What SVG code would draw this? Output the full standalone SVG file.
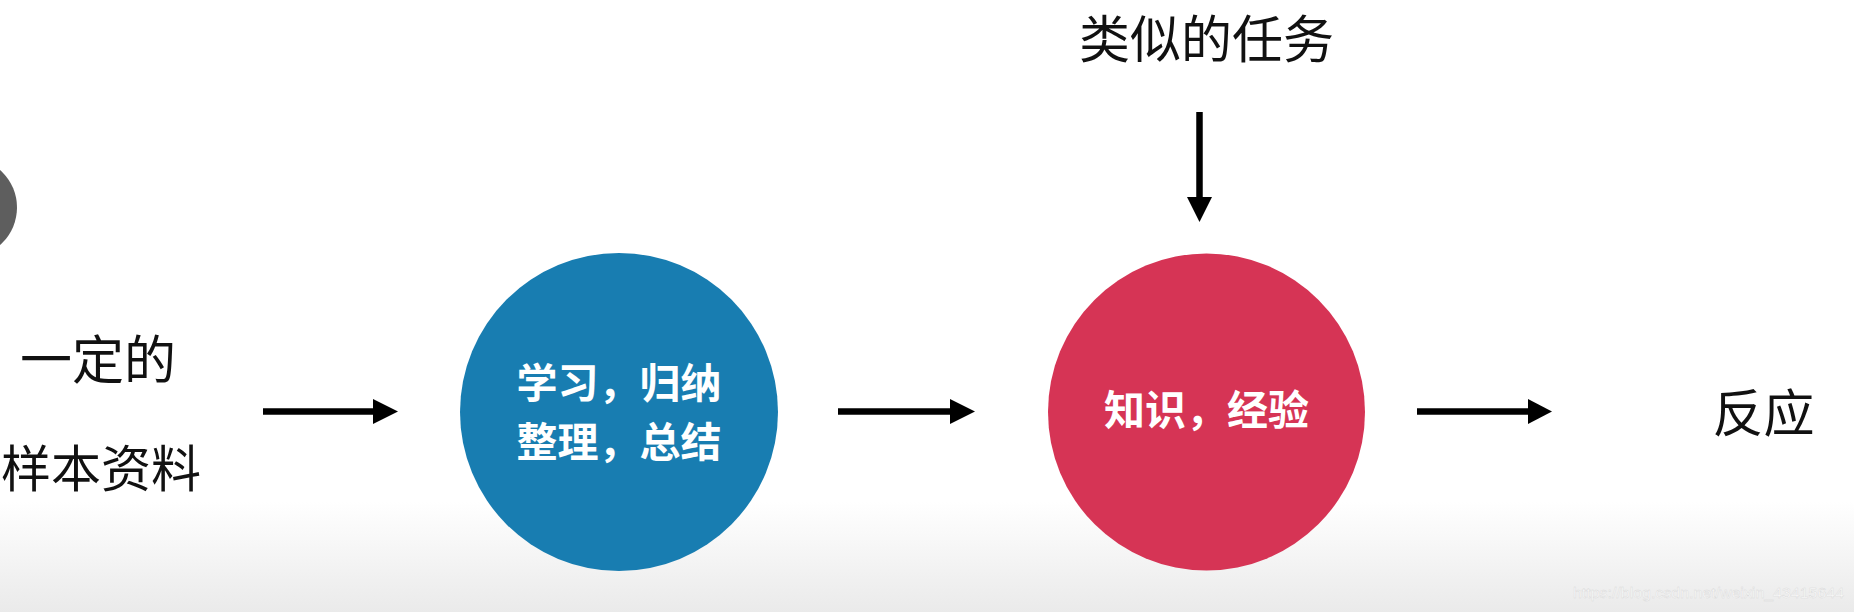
<svg xmlns="http://www.w3.org/2000/svg" width="1854" height="612" viewBox="0 0 1854 612">
  <defs>
    <linearGradient id="bg" x1="0" y1="0" x2="0" y2="1">
      <stop offset="0" stop-color="#ffffff"/>
      <stop offset="0.82" stop-color="#ffffff"/>
      <stop offset="1" stop-color="#eaeaea"/>
    </linearGradient>
  </defs>
  <style>
    .lbl { font-family: "Noto Sans CJK SC", "Noto Sans", sans-serif; fill: #111111; }
    .inner { font-family: "Noto Sans CJK SC", "Noto Sans", sans-serif; fill: #ffffff; font-weight: bold; font-size: 41px; text-anchor: middle; }
    .shaft { stroke: #000000; stroke-width: 6.5; fill: none; }
    .head { fill: #000000; }
    .wm { font-family: "Liberation Sans", Arial, sans-serif; font-size: 15px; fill: #fbfbfb; stroke: #d8d8d8; stroke-width: 0.4; }
  </style>

  <rect x="0" y="0" width="1854" height="612" fill="url(#bg)"/>

  <g id="grey-dot">
    <circle cx="-33" cy="207.5" r="50" fill="#5e5e5e"/>
  </g>

  <g id="input-label">
    <text class="lbl" x="98" y="379" font-size="52" text-anchor="middle">一定的</text>
    <text class="lbl" x="1" y="487" font-size="50">样本资料</text>
  </g>

  <g id="node-learn">
    <circle cx="619" cy="412" r="159" fill="#187db1"/>
    <text class="inner" x="619" y="398">学习，归纳</text>
    <text class="inner" x="619" y="457">整理，总结</text>
  </g>

  <g id="node-knowledge">
    <circle cx="1206.5" cy="412" r="158.5" fill="#d63455"/>
    <text class="inner" x="1206.5" y="425">知识，经验</text>
  </g>

  <g id="task-label">
    <text class="lbl" x="1206.5" y="58" font-size="51" text-anchor="middle">类似的任务</text>
  </g>

  <g id="response-label">
    <text class="lbl" x="1763.5" y="432" font-size="51" text-anchor="middle">反应</text>
  </g>

  <g id="connectors">
    <line class="shaft" x1="263" y1="411.5" x2="376" y2="411.5"/>
    <polygon class="head" points="373,399 398,411.5 373,424"/>
    <line class="shaft" x1="838" y1="411.5" x2="953" y2="411.5"/>
    <polygon class="head" points="950,399 975,411.5 950,424"/>
    <line class="shaft" x1="1417" y1="411.5" x2="1531" y2="411.5"/>
    <polygon class="head" points="1528,399 1552,411.5 1528,424"/>
    <line class="shaft" x1="1199.5" y1="112" x2="1199.5" y2="200"/>
    <polygon class="head" points="1187,197 1199.5,222 1212,197"/>
  </g>

  <text class="wm" x="1573" y="598" textLength="271" lengthAdjust="spacingAndGlyphs">https://blog.csdn.net/weixin_43415644</text>
</svg>
